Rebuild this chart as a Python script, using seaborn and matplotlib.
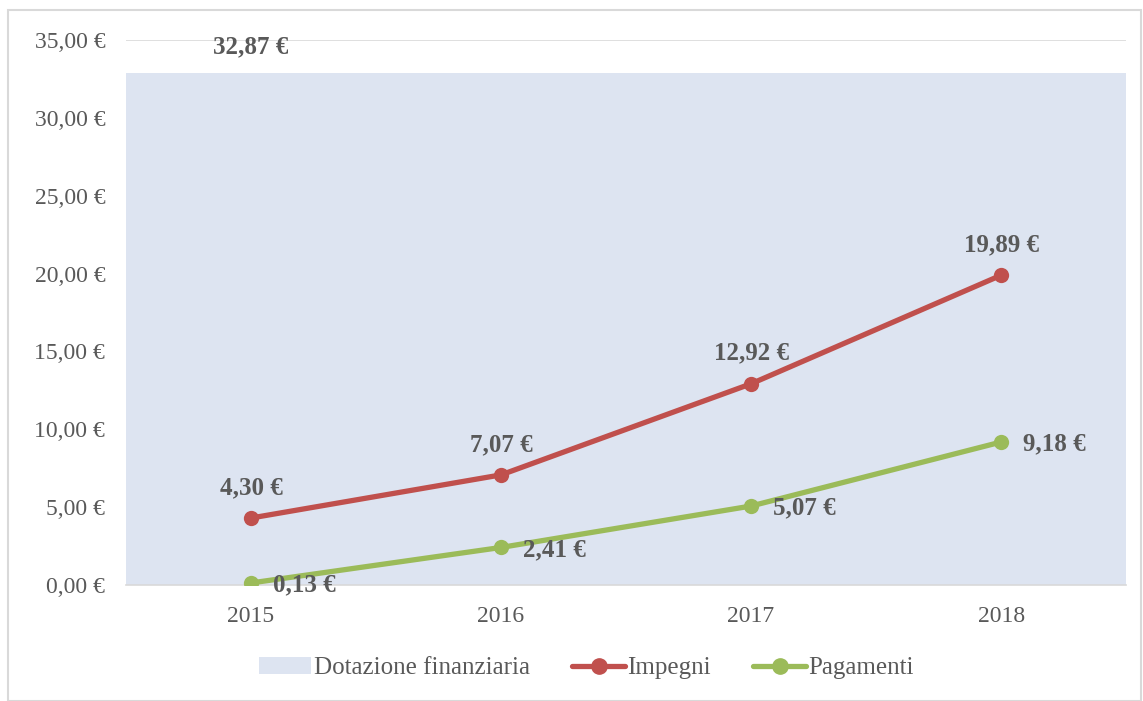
import matplotlib
matplotlib.use("Agg")
import matplotlib.pyplot as plt
import seaborn as sns
import pandas as pd
from matplotlib.patches import Rectangle, Patch
from matplotlib.lines import Line2D

anni = ["2015", "2016", "2017", "2018"]
dotazione = [32.87, 32.87, 32.87, 32.87]
impegni = [4.30, 7.07, 12.92, 19.89]
pagamenti = [0.13, 2.41, 5.07, 9.18]

def euro(v):
    return f"{v:.2f}".replace(".", ",") + " €"

sns.set_theme(style="white")
plt.rcParams['font.family'] = ['Liberation Serif', 'DejaVu Serif']

grigio = "#595959"
rosso = "#C0504D"
verde = "#9BBB59"
area_col = "#DDE4F1"

fig = plt.figure(figsize=(11.43, 7.01), dpi=100)
ax = fig.add_axes([0.1102, 0.1655, 0.875, 0.7775])

x = list(range(len(anni)))
df = pd.DataFrame({"x": x, "Impegni": impegni, "Pagamenti": pagamenti})

# area: fills the whole category span
ax.fill_between([-0.5] + x + [len(x) - 0.5],
                [dotazione[0]] + dotazione + [dotazione[-1]],
                color=area_col, lw=0, zorder=1)

sns.lineplot(data=df, x="x", y="Impegni", ax=ax, color=rosso, lw=3.8,
             marker="o", markersize=11, markeredgewidth=0, zorder=3)
sns.lineplot(data=df, x="x", y="Pagamenti", ax=ax, color=verde, lw=3.8,
             marker="o", markersize=11, markeredgewidth=0, zorder=3)

ax.set_xlim(-0.5, len(x) - 0.5)
ax.set_ylim(0, 35)
ax.set_yticks(range(0, 36, 5))
ax.set_yticklabels([euro(v) for v in range(0, 36, 5)])
ax.set_xticks(x)
ax.set_xticklabels(anni)
ax.set_xlabel("")
ax.set_ylabel("")
ax.tick_params(axis="both", colors=grigio, labelsize=17, length=0)
ax.tick_params(axis="y", pad=15)
ax.tick_params(axis="x", pad=15)
for lab in ax.get_xticklabels() + ax.get_yticklabels():
    lab.set_color(grigio)

ax.grid(axis="y", color="#D9D9D9", lw=1.2, zorder=0)
ax.set_axisbelow(True)
for s in ["top", "right", "left"]:
    ax.spines[s].set_visible(False)
ax.spines["bottom"].set_color("#D9D9D9")
ax.spines["bottom"].set_linewidth(1.2)

lab_kw = dict(fontsize=18, fontweight="bold", color=grigio, textcoords="offset points")
ax.annotate(euro(dotazione[0]), (0, dotazione[0]), xytext=(0, 19),
            ha="center", va="center", **lab_kw)
for xi, v in zip(x, impegni):
    ax.annotate(euro(v), (xi, v), xytext=(0, 22), ha="center", va="center", **lab_kw)
for xi, v in zip(x, pagamenti):
    ax.annotate(euro(v), (xi, v), xytext=(16, -1.5), ha="left", va="center", **lab_kw)

handles = [
    Patch(facecolor=area_col, edgecolor="none", label="Dotazione finanziaria"),
    Line2D([], [], color=rosso, lw=3.8, marker="o", markersize=11, label="Impegni"),
    Line2D([], [], color=verde, lw=3.8, marker="o", markersize=11, label="Pagamenti"),
]
leg = fig.legend(handles=handles, loc="center", bbox_to_anchor=(0.513, 0.047),
                 ncol=3, frameon=False, fontsize=18, handlelength=2.1,
                 handletextpad=0.1, columnspacing=1.7)
for t in leg.get_texts():
    t.set_color(grigio)

fig.patches.append(Rectangle((0.007, 0.0), 0.991, 0.986, transform=fig.transFigure,
                             fill=False, edgecolor="#D9D9D9", lw=1.5))

fig.savefig("out.png", dpi=100)
